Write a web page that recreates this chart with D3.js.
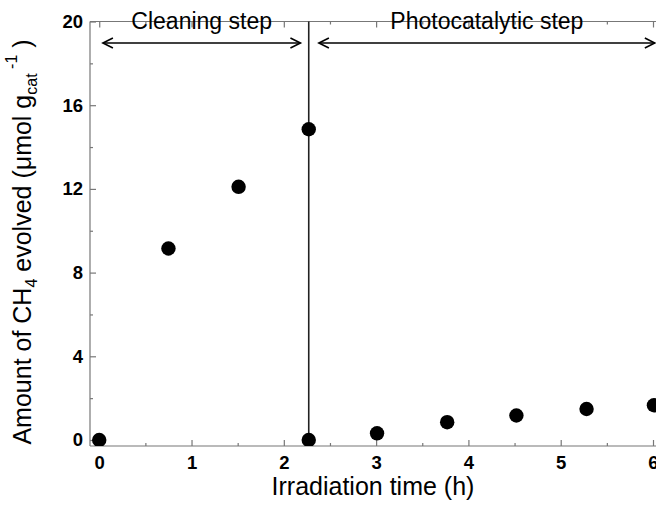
<!DOCTYPE html>
<html>
<head>
<meta charset="utf-8">
<script src="https://cdn.jsdelivr.net/npm/d3@7"></script>
<style>
  body { margin: 0; background: #fff; }
  text { font-family: "Liberation Sans", Arial, sans-serif; }
</style>
</head>
<body>
<div id="chart"></div>
<script>
(function () {
  var width = 656,
    height = 505;

  // data
  var timeH = [0, 0.75, 1.51, 2.27, 2.27, 3.01, 3.77, 4.52, 5.28, 6.01];
  var ch4 = [0, 9.15, 12.1, 14.85, 0, 0.32, 0.85, 1.17, 1.48, 1.66];
  var xTicks = [0, 1, 2, 3, 4, 5, 6];
  var yTicks = [0, 4, 8, 12, 16, 20];
  var switchTime = 2.27;
  var stepLabels = ["Cleaning step", "Photocatalytic step"];
  var stepRanges = [[0.04, 2.18], [2.38, 6.02]];

  var points = timeH.map(function (t, i) {
    return { t: t, v: ch4[i] };
  });

  var svg = d3.select("#chart")
    .append("svg")
    .attr("width", width)
    .attr("height", height);

  var x = d3.scaleLinear().domain([-0.1, 6.13]).range([90, 665]);
  var y = d3.scaleLinear().domain([-0.287, 20]).range([446, 21.5]);

  var axisColor = "#777";

  var defs = svg.append("defs");
  defs.append("clipPath").attr("id", "plot")
    .append("rect")
    .attr("x", 90).attr("y", 21.5)
    .attr("width", 575).attr("height", 424.5);

  // frame lines
  svg.append("line")
    .attr("x1", 90).attr("x2", width).attr("y1", 446).attr("y2", 446)
    .attr("stroke", axisColor).attr("stroke-width", 1.2);
  svg.append("line")
    .attr("x1", 90).attr("x2", width).attr("y1", 21.5).attr("y2", 21.5)
    .attr("stroke", axisColor).attr("stroke-width", 1.2);
  svg.append("line")
    .attr("x1", 90).attr("x2", 90).attr("y1", 21.5).attr("y2", 446)
    .attr("stroke", axisColor).attr("stroke-width", 1.2);

  var minorX = d3.range(0.5, 6.1, 1);
  var minorY = d3.range(2, 20, 4);

  function styleAxis(g) {
    g.select(".domain").remove();
    g.selectAll(".tick line").attr("stroke", axisColor).attr("stroke-width", 1.2);
    g.selectAll(".tick text")
      .attr("fill", "#000")
      .attr("font-size", "18.5px")
      .attr("font-weight", "bold")
      .attr("font-family", "Liberation Sans, Arial, sans-serif");
  }

  // bottom axis
  svg.append("g")
    .attr("transform", "translate(0,446)")
    .call(d3.axisBottom(x).tickValues(xTicks).tickSize(-6).tickPadding(10).tickFormat(d3.format("d")))
    .call(styleAxis);
  svg.append("g")
    .attr("transform", "translate(0,446)")
    .call(d3.axisBottom(x).tickValues(minorX).tickSize(-3).tickFormat(""))
    .call(styleAxis);

  // top axis, ticks only
  svg.append("g")
    .attr("transform", "translate(0,21.5)")
    .call(d3.axisTop(x).tickValues(xTicks).tickSize(-6).tickFormat(""))
    .call(styleAxis);
  svg.append("g")
    .attr("transform", "translate(0,21.5)")
    .call(d3.axisTop(x).tickValues(minorX).tickSize(-3).tickFormat(""))
    .call(styleAxis);

  // left axis
  svg.append("g")
    .attr("transform", "translate(90,0)")
    .call(d3.axisLeft(y).tickValues(yTicks).tickSize(-6).tickPadding(7).tickFormat(d3.format("d")))
    .call(styleAxis);
  svg.append("g")
    .attr("transform", "translate(90,0)")
    .call(d3.axisLeft(y).tickValues(minorY).tickSize(-3).tickFormat(""))
    .call(styleAxis);

  // vertical separator
  svg.append("line")
    .attr("x1", x(switchTime)).attr("x2", x(switchTime))
    .attr("y1", 21.5).attr("y2", 446)
    .attr("stroke", "#222").attr("stroke-width", 1.6);

  // double arrows
  var arrowY = 43;
  stepRanges.forEach(function (r, i) {
    var x0 = x(r[0]), x1 = x(r[1]);
    var g = svg.append("g")
      .attr("stroke", "#000").attr("stroke-width", 1.6).attr("fill", "none");
    g.append("line").attr("x1", x0).attr("x2", x1).attr("y1", arrowY).attr("y2", arrowY);
    g.append("path").attr("d", "M" + (x0 + 10) + "," + (arrowY - 5) + "L" + x0 + "," + arrowY + "L" + (x0 + 10) + "," + (arrowY + 5));
    g.append("path").attr("d", "M" + (x1 - 10) + "," + (arrowY - 5) + "L" + x1 + "," + arrowY + "L" + (x1 - 10) + "," + (arrowY + 5));

    svg.append("text")
      .attr("x", (x0 + x1) / 2)
      .attr("y", 29)
      .attr("text-anchor", "middle")
      .attr("font-size", "23px")
      .attr("fill", "#000")
      .text(stepLabels[i]);
  });

  // points
  svg.append("g")
    .attr("clip-path", "url(#plot)")
    .selectAll(".pt")
    .data(points)
    .enter().append("circle")
    .attr("class", "pt")
    .attr("cx", function (d) { return x(d.t); })
    .attr("cy", function (d) { return y(d.v); })
    .attr("r", 7.2)
    .attr("fill", "#000");

  // axis titles
  svg.append("text")
    .attr("x", 373)
    .attr("y", 495)
    .attr("text-anchor", "middle")
    .attr("font-size", "25px")
    .attr("fill", "#000")
    .text("Irradiation time (h)");

  var yt = svg.append("text")
    .attr("transform", "translate(31,242) rotate(-90)")
    .attr("text-anchor", "middle")
    .attr("font-size", "25px")
    .attr("fill", "#000");
  yt.append("tspan").text("Amount of CH");
  yt.append("tspan").attr("font-size", "16px").attr("dy", 6).text("4");
  yt.append("tspan").attr("dy", -6).text(" evolved (\u03bcmol g");
  yt.append("tspan").attr("font-size", "16px").attr("dy", 6).text("cat");
  yt.append("tspan").attr("font-size", "16px").attr("dy", -20).text(" -1");
  yt.append("tspan").attr("dy", 14).text(" )");
})();
</script>
</body>
</html>
